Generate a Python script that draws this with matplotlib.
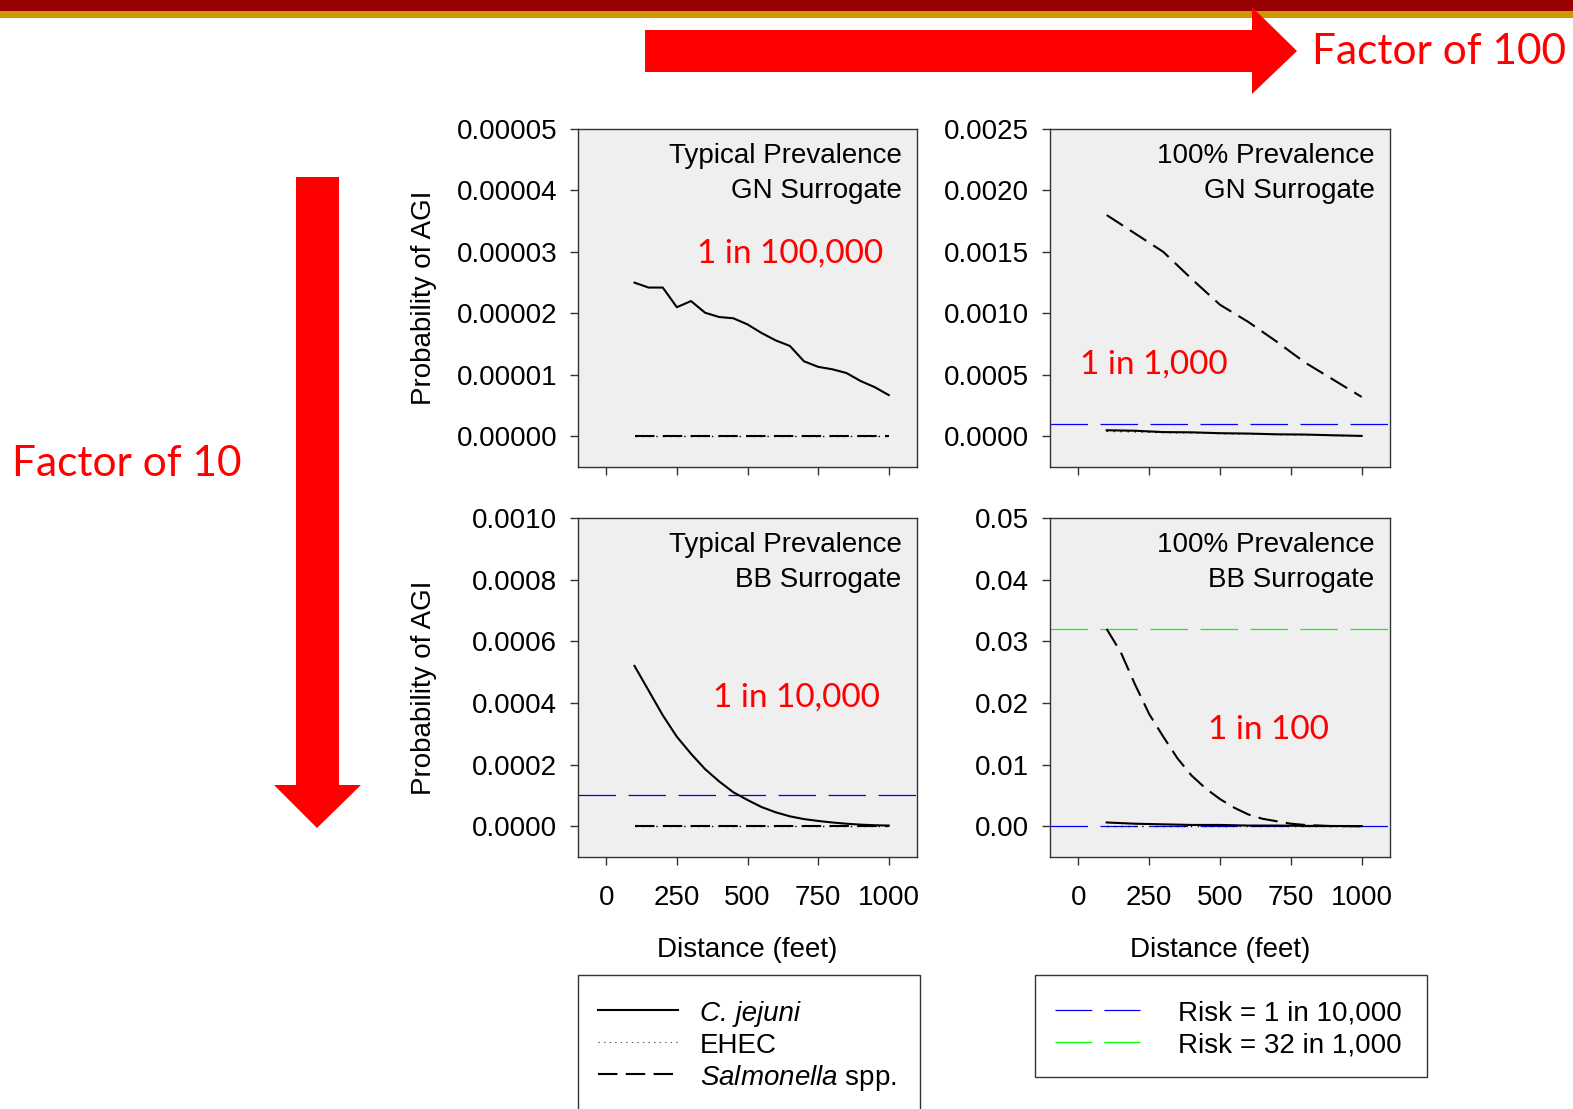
import matplotlib
matplotlib.use("Agg")
import matplotlib.pyplot as plt
from matplotlib.patches import Rectangle, Polygon
from matplotlib.lines import Line2D
from matplotlib.ticker import FormatStrFormatter

# -------------------------------
# 1. Data
# -------------------------------
dist = [100, 150, 200, 250, 300, 350, 400, 450, 500, 550,
        600, 650, 700, 750, 800, 850, 900, 950, 1000]
dist100 = [100, 200, 300, 400, 500, 600, 700, 800, 900, 1000]

# Typical prevalence, GN surrogate
cj_tl = [2.50e-5, 2.42e-5, 2.42e-5, 2.10e-5, 2.20e-5, 2.01e-5, 1.94e-5, 1.92e-5, 1.82e-5, 1.68e-5,
         1.56e-5, 1.47e-5, 1.22e-5, 1.13e-5, 1.09e-5, 1.03e-5, 0.90e-5, 0.80e-5, 0.67e-5]
sal_tl = [2e-8, 2e-8, 2e-8, 2e-8, 2e-8, 2e-8, 2e-8, 2e-8, 2e-8, 2e-8]
ehec_tl = [0, 0, 0, 0, 0, 0, 0, 0, 0, 0]

# 100% prevalence, GN surrogate
cj_tr = [4.9e-5, 4.5e-5, 3.4e-5, 3.2e-5, 2.5e-5, 2.2e-5, 1.6e-5, 1.4e-5, 0.8e-5, 0.3e-5]
sal_tr = [1.80e-3, 1.65e-3, 1.50e-3, 1.28e-3, 1.07e-3, 0.93e-3, 0.77e-3, 0.60e-3, 0.46e-3, 0.32e-3]
ehec_tr = [4.0e-5, 3.6e-5, 3.0e-5, 2.8e-5, 2.2e-5, 1.9e-5, 1.4e-5, 1.2e-5, 0.7e-5, 0.3e-5]

# Typical prevalence, BB surrogate
cj_bl = [5.2e-4, 4.4e-4, 3.6e-4, 2.9e-4, 2.35e-4, 1.85e-4, 1.45e-4, 1.10e-4, 0.85e-4, 0.62e-4,
         0.45e-4, 0.32e-4, 0.23e-4, 0.17e-4, 0.12e-4, 0.08e-4, 0.05e-4, 0.03e-4, 0.02e-4]
sal_bl = [1e-7, 1e-7, 1e-7, 1e-7, 1e-7, 1e-7, 1e-7, 1e-7, 1e-7, 1e-7]
ehec_bl = [0, 0, 0, 0, 0, 0, 0, 0, 0, 0]

# 100% prevalence, BB surrogate
cj_br = [6e-4, 4e-4, 3e-4, 2e-4, 2e-4, 1e-4, 1e-4, 5e-5, 3e-5, 2e-5]
sal_br = [0.0320, 0.0282, 0.0230, 0.0182, 0.0145, 0.0110, 0.0082, 0.0061, 0.0044, 0.0030,
          0.0019, 0.0012, 0.0008, 0.0004, 0.0002, 0.0001, 0.0, 0.0, 0.0]
ehec_br = [0, 0, 0, 0, 0, 0, 0, 0, 0, 0]

risk_blue = 1e-4
risk_green = 0.032

titles = ["Typical Prevalence\nGN Surrogate", "100% Prevalence\nGN Surrogate",
          "Typical Prevalence\nBB Surrogate", "100% Prevalence\nBB Surrogate"]
risk_labels = ["1 in 100,000", "1 in 1,000", "1 in 10,000", "1 in 100"]
x_ticks = [0, 250, 500, 750, 1000]

# -------------------------------
# 2. Figure setup
# -------------------------------
plt.rcParams["font.family"] = "Liberation Sans"
plt.rcParams["mathtext.fontset"] = "custom"
plt.rcParams["mathtext.it"] = "Liberation Sans:italic"
plt.rcParams["mathtext.rm"] = "Liberation Sans"
plt.rcParams["lines.scale_dashes"] = False

W, H = 1573, 1109
fig = plt.figure(figsize=(W / 100, H / 100), dpi=100)


def fx(px):
    return px / W


def fy(py):
    return 1 - py / H


# top banner
fig.add_artist(Rectangle((0, fy(11)), 1, 11 / H, transform=fig.transFigure, color="#990000", lw=0))
fig.add_artist(Rectangle((0, fy(18)), 1, 7 / H, transform=fig.transFigure, color="#CC9900", lw=0))

# red arrows
h_arrow = [(645, 30), (1252, 30), (1252, 7), (1297, 51), (1252, 94), (1252, 72), (645, 72)]
v_arrow = [(296, 177), (339, 177), (339, 785), (361, 785), (317, 828), (274, 785), (296, 785)]
for pts in (h_arrow, v_arrow):
    fig.add_artist(Polygon([(fx(a), fy(b)) for a, b in pts], closed=True,
                           transform=fig.transFigure, color="#FF0000", lw=0, zorder=5))

fig.text(fx(1439), fy(52), "Factor of 100", color="#FF0000", fontsize=30.5,
         family="Lato", ha="center", va="center")
fig.text(fx(127), fy(464), "Factor of 10", color="#FF0000", fontsize=30.5,
         family="Lato", ha="center", va="center")

# -------------------------------
# 3. Panels
# -------------------------------
boxes = [(578, 129, 917, 467), (1050, 129, 1390, 467),
         (578, 518, 917, 857), (1050, 518, 1390, 857)]
ylims = [(-0.000005, 0.00005), (-0.00025, 0.0025), (-0.0001, 0.001), (-0.005, 0.05)]
ysteps = [0.00001, 0.0005, 0.0002, 0.01]
yfmts = ["%.5f", "%.4f", "%.4f", "%.2f"]
risk_pos = [(0.625, 0.633), (0.306, 0.302), (0.643, 0.469), (0.641, 0.375)]

series = [
    (dist, cj_tl, dist100, sal_tl, ehec_tl),
    (dist100, cj_tr, dist100, sal_tr, ehec_tr),
    (dist, cj_bl, dist100, sal_bl, ehec_bl),
    (dist100, cj_br, dist, sal_br, ehec_br),
]

for i, (l, t, r, b) in enumerate(boxes):
    ax = fig.add_axes([fx(l), fy(b), (r - l) / W, (b - t) / H])
    ax.set_facecolor("#EFEFEF")
    for sp in ax.spines.values():
        sp.set_color("#333333")
        sp.set_linewidth(1)

    xc, cj, xs, sal, ehec = series[i]
    if i >= 1:
        ax.axhline(risk_blue, color="#0000FF", lw=0.9, dashes=(27, 9), zorder=1)
    if i == 3:
        ax.axhline(risk_green, color="#00FF00", lw=0.9, dashes=(27, 9), zorder=1)
    ax.plot(dist100, ehec, color="black", lw=1, ls=(0, (1, 4)), zorder=2)
    ax.plot(xs, sal, color="black", lw=1.5, dashes=(14, 6), zorder=3)
    ax.plot(xc, cj, color="black", lw=1.5, zorder=4)

    ax.set_xlim(-100, 1100)
    ax.set_ylim(*ylims[i])
    ax.set_xticks(x_ticks)
    step = ysteps[i]
    ax.set_yticks([step * k for k in range(6)])
    ax.yaxis.set_major_formatter(FormatStrFormatter(yfmts[i]))
    ax.tick_params(direction="out", length=6, width=1, color="#333333",
                   labelsize=20, pad=9, top=False, right=False)
    ax.tick_params(axis="x", pad=14)
    if i < 2:
        ax.set_xticklabels([])
    else:
        ax.set_xlabel("Distance (feet)", fontsize=20)
        ax.xaxis.set_label_coords(0.5, -0.235)
    if i % 2 == 0:
        ax.set_ylabel("Probability of AGI", fontsize=20)
        ax.yaxis.set_label_coords(-0.415, 0.5)

    ax.text(0.955, 0.96, titles[i], transform=ax.transAxes, ha="right", va="top",
            fontsize=20, linespacing=1.45)
    rx, ry = risk_pos[i]
    ax.text(rx, ry, risk_labels[i], transform=ax.transAxes, ha="center", va="center",
            fontsize=24, family="Lato", color="#FF0000")

# -------------------------------
# 4. Legends
# -------------------------------
fig.add_artist(Rectangle((fx(578), fy(1120)), (920 - 578) / W, (1120 - 975) / H,
                         transform=fig.transFigure, fill=False, ec="#333333", lw=1))
fig.add_artist(Rectangle((fx(1035), fy(1077)), (1427 - 1035) / W, (1077 - 975) / H,
                         transform=fig.transFigure, fill=False, ec="#333333", lw=1))

leg1_labels = ["C. jejuni", "EHEC", "$\\mathit{Salmonella}$ spp."]
leg1_styles = [dict(color="black", lw=1.5),
               dict(color="#555555", lw=0.8, ls=(0, (1, 3))),
               dict(color="black", lw=1.5, dashes=(14, 6))]
leg1_rows = [1010, 1042, 1074]
for lab, st, yy in zip(leg1_labels, leg1_styles, leg1_rows):
    fig.add_artist(Line2D([fx(598), fx(678)], [fy(yy), fy(yy)], transform=fig.transFigure, **st))
    fig.text(fx(700), fy(yy + 4), lab, fontsize=20, va="center",
             style="italic" if lab == "C. jejuni" else "normal")

leg2_labels = ["Risk = 1 in 10,000", "Risk = 32 in 1,000"]
leg2_colors = ["#0000FF", "#00FF00"]
leg2_rows = [1010, 1042]
for lab, col, yy in zip(leg2_labels, leg2_colors, leg2_rows):
    fig.add_artist(Line2D([fx(1055), fx(1140)], [fy(yy), fy(yy)], transform=fig.transFigure,
                          color=col, lw=0.9, dashes=(26.5, 8.7)))
    fig.text(fx(1178), fy(yy + 4), lab, fontsize=20, va="center")

fig.savefig("out.png", dpi=100)
